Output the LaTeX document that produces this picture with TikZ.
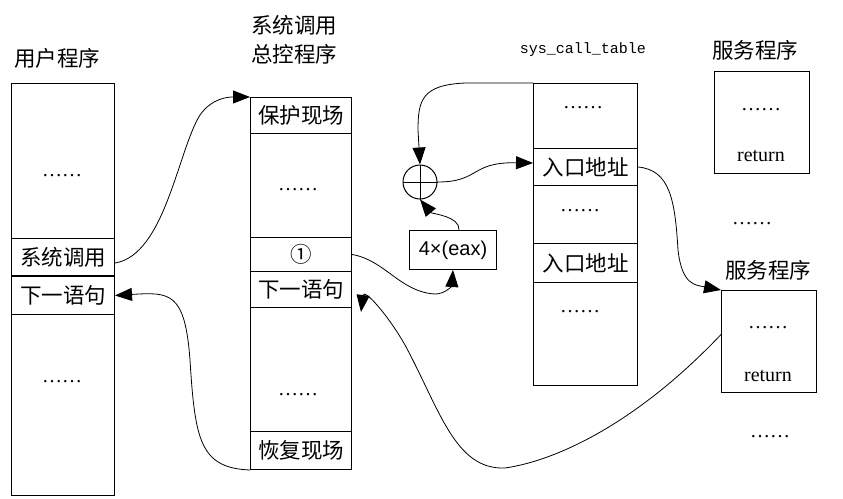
\documentclass[tikz,border=0pt]{standalone}
\usepackage{fontspec}
\setmainfont{Liberation Serif}
\newfontfamily\cjk{Noto Sans CJK SC}
\newfontfamily\tabfont{Liberation Mono}
\newfontfamily\boxfont{Liberation Sans}
\usetikzlibrary{arrows.meta}
\tikzset{
	cell/.style={draw, line width=1pt, anchor=north west, inner sep=0pt, font=\cjk\fontsize{21.5}{24}\selectfont},
	title/.style={inner sep=0pt, font=\cjk\fontsize{21.5}{29}\selectfont},
	dots/.style={inner sep=0pt, font=\fontsize{20}{24}\selectfont},
	link/.style={line width=0.8pt, -{Triangle[length=17pt,width=13pt]}}
}
\begin{document}
\begin{tikzpicture}[x=1pt, y=-1pt]
		%%%%% START %%%%%
		\useasboundingbox (0,0) rectangle (843,498);
		
		% user program
		\node[title] (utitle) at (57,58) {用户程序};
		\node[cell, minimum width=103pt, minimum height=155pt] (u1) at (11,83) {};
		\node[cell, minimum width=103pt, minimum height=37pt] (u2) at (11,238) {系统调用};
		\node[cell, minimum width=103pt, minimum height=38pt] (u3) at (11,276) {下一语句};
		\node[cell, minimum width=103pt, minimum height=181pt] (u4) at (11,314) {};
		\draw[line width=2.5pt] (u2.south west) -- (u2.south east);
		\node[dots] (ud1) at (62,176) {……};
		\node[dots] (ud2) at (62,382) {……};
		
		% system call handler
		\node[title, align=left] (ktitle) at (294,40) {系统调用\\总控程序};
		\node[cell, minimum width=101pt, minimum height=36pt] (k1) at (250,97) {保护现场};
		\node[cell, minimum width=101pt, minimum height=104pt] (k2) at (250,133) {};
		\node[cell, minimum width=101pt, minimum height=34pt] (k3) at (250,237) {①};
		\node[cell, minimum width=101pt, minimum height=36pt] (k4) at (250,271) {下一语句};
		\node[cell, minimum width=101pt, minimum height=124pt] (k5) at (250,307) {};
		\node[cell, minimum width=101pt, minimum height=38pt] (k6) at (250,431) {恢复现场};
		\node[dots] (kd1) at (298,190) {……};
		\node[dots] (kd2) at (298,395) {……};
		
		% sys_call_table
		\node[inner sep=0pt, font=\tabfont\fontsize{15}{18}\selectfont] (ttitle) at (583,50) {sys\_call\_table};
		\node[cell, minimum width=104pt, minimum height=65pt] (t1) at (533,83) {};
		\node[cell, minimum width=104pt, minimum height=37pt] (t2) at (533,148) {入口地址};
		\node[cell, minimum width=104pt, minimum height=58pt] (t3) at (533,185) {};
		\node[cell, minimum width=104pt, minimum height=39pt] (t4) at (533,243) {入口地址};
		\node[cell, minimum width=104pt, minimum height=103pt] (t5) at (533,282) {};
		\node[dots] (td1) at (583,108) {……};
		\node[dots] (td2) at (580,211) {……};
		\node[dots] (td3) at (580,312) {……};
		
		% adder and offset
		\node[draw, circle, line width=1pt, minimum size=34pt, inner sep=0pt] (plus) at (420,182) {};
		\draw[line width=1pt] (plus.north) -- (plus.south);
		\draw[line width=1pt] (plus.west) -- (plus.east);
		\node[cell, minimum width=87pt, minimum height=39pt, font=\boxfont\fontsize{20}{24}\selectfont] (eax) at (409,230) {4×(eax)};
		
		% service routines
		\node[title] (s1title) at (755,50) {服务程序};
		\node[cell, minimum width=95pt, minimum height=102pt] (s1) at (714,71) {};
		\node[dots] (s1d) at (761,110) {……};
		\node[dots] (s1r) at (761,156) {return};
		\node[dots] (sd1) at (752,224) {……};
		\node[title] (s2title) at (768,270) {服务程序};
		\node[cell, minimum width=95pt, minimum height=102pt] (s2) at (721,290) {};
		\node[dots] (s2d) at (768,328) {……};
		\node[dots] (s2r) at (768,376) {return};
		\node[dots] (sd2) at (770,437) {……};
		
		% connectors
		\draw[link] ([yshift=-6pt]u2.east) .. controls (165,255) and (178,150) .. (200,115) .. controls (212,98) and (228,97) .. (k1.north west);
		\draw[link] (k6.south west) .. controls (200,468) and (195,440) .. (190,360) .. controls (185,292) and (170,292) .. (u3.east);
		\draw[link] (k3.east) .. controls (385,260) and (400,292) .. (435,294) .. controls (446,294) and (452,285) .. (eax.south);
		\draw[link] ([xshift=6pt]eax.north) .. controls (460,216) and (432,214) .. (plus.south);
		\draw[link] (t1.north west) -- (465,83) .. controls (422,85) and (418,100) .. (418,130) -- (plus.north);
		\draw[link] (plus.east) .. controls (480,182) and (470,162) .. ([yshift=4pt]t2.west);
		\draw[link] (t2.east) .. controls (670,170) and (675,200) .. (678,250) .. controls (682,285) and (695,285) .. (s2.north west);
		\draw[link] ([yshift=7pt]s2.west) .. controls (640,420) and (560,460) .. (505,468) .. controls (455,470) and (440,410) .. (405,345) .. controls (388,315) and (364,288) .. (361,312);
		
		%%%%% END %%%%%
	\end{tikzpicture}
\end{document}
